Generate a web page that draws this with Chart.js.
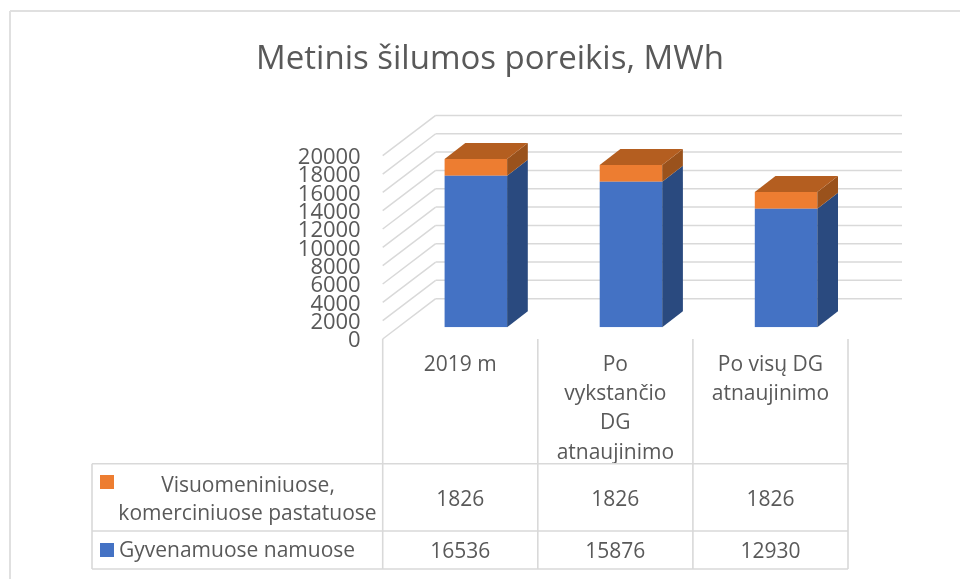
<!DOCTYPE html>
<html><head><meta charset="utf-8">
<style>html,body{margin:0;padding:0;background:#fff}#w{position:relative;width:960px;height:579px}</style>
<script src="https://cdn.jsdelivr.net/npm/chart.js@4"></script>
</head><body><div id="w"><canvas id="c" width="960" height="579"></canvas></div>
<script>
const categories = [["2019 m"], ["Po","vykstančio","DG","atnaujinimo"], ["Po visų DG","atnaujinimo"]];
const residential = [16536, 15876, 12930];
const publicCommercial = [1826, 1826, 1826];
const residentialName = "Gyvenamuose namuose";
const publicName = ["Visuomeniniuose,", "komerciniuose pastatuose"];
const titleText = "Metinis šilumos poreikis, MWh";
const FONT = '"Open Sans"';
const GRID = '#d9d9d9', TEXT = '#595959';
const WALL = {dx:53, dy:-40.3}, BAR = {dx:15.6, dy:-11.7}, DEPTH = {dx:20.7, dy:-16};

function poly(ctx, pts, fill){ctx.fillStyle=fill;ctx.beginPath();pts.forEach((p,i)=>i?ctx.lineTo(p[0],p[1]):ctx.moveTo(p[0],p[1]));ctx.closePath();ctx.fill();}
function line(ctx,x1,y1,x2,y2){ctx.beginPath();ctx.moveTo(x1,y1);ctx.lineTo(x2,y2);ctx.stroke();}

const box3d = {
  id:'box3d',
  beforeDatasetsDraw(chart){
    const {ctx,scales:{x,y}}=chart, a=chart.chartArea;
    ctx.save();
    ctx.strokeStyle=GRID;ctx.lineWidth=1.5;
    y.ticks.forEach(t=>{
      const py=y.getPixelForValue(t.value);
      line(ctx,a.left,py,a.left+WALL.dx,py+WALL.dy);
      line(ctx,a.left+WALL.dx,py+WALL.dy,902,py+WALL.dy);
    });
    ctx.restore();
    ctx.save();ctx.translate(BAR.dx,BAR.dy);
  },
  afterDatasetsDraw(chart){
    const {ctx}=chart;
    const sideCol=['#2a4a7f','#9a521c'], topCol='#b45e20';
    const metas=[chart.getDatasetMeta(0),chart.getDatasetMeta(1)];
    metas.forEach((m,di)=>m.data.forEach(b=>{
      const hw=b.width/2, r=b.x+hw, l=b.x-hw;
      poly(ctx,[[r,b.y],[r+DEPTH.dx,b.y+DEPTH.dy],[r+DEPTH.dx,b.base+DEPTH.dy],[r,b.base]],sideCol[di]);
      if(di===1) poly(ctx,[[l,b.y],[l+DEPTH.dx,b.y+DEPTH.dy],[r+DEPTH.dx,b.y+DEPTH.dy],[r,b.y]],topCol);
    }));
    ctx.restore();
  },
  afterDraw(chart){
    const {ctx,scales:{x}}=chart, a=chart.chartArea;
    const rows=[463.7,531,569], tableLeft=92;
    const half=(x.getPixelForValue(1)-x.getPixelForValue(0))/2;
    ctx.save();
    ctx.strokeStyle='#e0e0e0';ctx.lineWidth=2;
    line(ctx,10,11,960,11);line(ctx,10,11,10,579);
    ctx.strokeStyle=GRID;ctx.lineWidth=1.6;
    [0,1,2,3].forEach(i=>{const px=x.getPixelForValue(0)-half+i*2*half;line(ctx,px,a.bottom,px,rows[2]);});
    rows.forEach(ry=>line(ctx,tableLeft,ry,a.right,ry));
    line(ctx,tableLeft,rows[0],tableLeft,rows[2]);
    ctx.fillStyle='#ed7d31';ctx.fillRect(100,475,14,14);
    ctx.fillStyle='#4472c4';ctx.fillRect(100,543,14,14);
    ctx.fillStyle=TEXT;ctx.font='21px '+FONT;ctx.textBaseline='middle';
    ctx.textAlign='center';
    ctx.fillText(publicName[0],248,486);ctx.fillText(publicName[1],247.5,514);
    ctx.textAlign='left';ctx.fillText(residentialName,119,551.5);
    ctx.textAlign='center';
    publicCommercial.forEach((v,i)=>ctx.fillText(String(v),x.getPixelForValue(i),500));
    residential.forEach((v,i)=>ctx.fillText(String(v),x.getPixelForValue(i),552));
    ctx.restore();
  }
};

new Chart(document.getElementById('c'),{
  type:'bar',
  plugins:[box3d],
  data:{labels:categories,datasets:[
    {label:residentialName,data:residential,backgroundColor:'#4472c4',borderWidth:0},
    {label:publicName.join(' '),data:publicCommercial,backgroundColor:'#ed7d31',borderWidth:0}
  ]},
  options:{
    responsive:false,animation:false,
    layout:{padding:{left:132,right:112,top:0,bottom:0}},
    categoryPercentage:1,barPercentage:0.403,
    plugins:{
      legend:{display:false},tooltip:{enabled:false},
      title:{display:true,text:titleText,color:TEXT,font:{family:FONT,size:33,weight:'normal'},padding:{top:40,bottom:76.1}}
    },
    scales:{
      x:{stacked:true,grid:{display:false},border:{display:false},
        ticks:{color:TEXT,font:{family:FONT,size:21,lineHeight:1.4},padding:3,maxRotation:0,autoSkip:false},
        afterFit(s){s.height=240;}},
      y:{stacked:true,min:0,max:20000,grid:{display:false},border:{display:false},
        ticks:{stepSize:2000,autoSkip:false,color:TEXT,font:{family:FONT,size:22,lineHeight:1},padding:14,labelOffset:2,callback:v=>String(v)},
        afterFit(s){s.width=250.7;}}
    }
  }
});
</script></body></html>
